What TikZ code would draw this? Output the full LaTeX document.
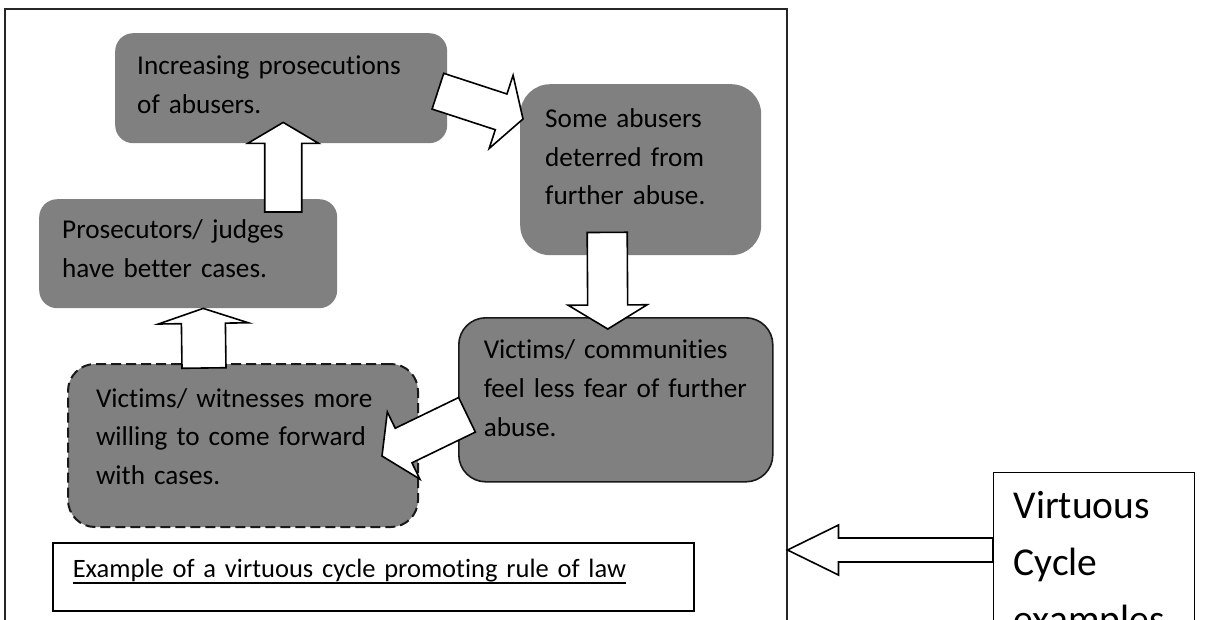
\documentclass[tikz,border=0pt]{standalone}
\usepackage{fontspec}
\setmainfont{Carlito}[Ligatures=NoCommon]
\usetikzlibrary{calc}
\hyphenpenalty=10000
\tikzset{
  cycle box/.style={anchor=north west, fill=gray, align=left, inner ysep=0pt, text height=41pt, font=\fontsize{27.2}{38.8}\selectfont},
  gray box/.style={cycle box, draw=none},
  solid box/.style={cycle box, draw=black!90, line width=1.6pt},
  dashed box/.style={cycle box, draw=black!90, line width=2pt, dash pattern=on 10pt off 5pt},
  frame box/.style={anchor=north west, draw=black!85, line width=1.5pt, inner sep=0pt},
  caption box/.style={anchor=north west, draw=black, line width=1.6pt, align=left, inner xsep=20pt, inner ysep=0pt, text height=35pt, text depth=33pt, font=\fontsize{26.5}{33}\selectfont},
  label box/.style={anchor=north west, draw=black, line width=1.4pt, align=left, inner xsep=20pt, inner ysep=0pt, text height=46pt, text depth=160pt, font=\fontsize{39.5}{57}\selectfont},
  block arrow/.style={draw=black, fill=white, line width=1.6pt, line join=miter},
}
% underlined caption text
\newsavebox{\capbox}
\newcommand{\capline}[1]{\sbox{\capbox}{#1}\usebox{\capbox}\hspace{-\wd\capbox}\rule[-5.8pt]{\wd\capbox}{1.6pt}}
% tail, tip, half shaft, half head, head length
\newcommand{\blockarrow}[5]{%
  \path ($(#2)!#5!(#1)$) coordinate (hb);
  \draw[block arrow] ($(#1)!#3!90:(#2)$) -- ($(hb)!#3!90:(#2)$) -- ($(hb)!#4!90:(#2)$) -- (#2)
    -- ($(hb)!#4!-90:(#2)$) -- ($(hb)!#3!-90:(#2)$) -- ($(#1)!#3!-90:(#2)$) -- cycle;
}

\begin{document}
\begin{tikzpicture}[x=1pt,y=-1pt]
\useasboundingbox (0,0) rectangle (1205,619);
\clip (0,0) rectangle (1205,619);
%the frame
\node[frame box, minimum width=782pt, minimum height=660pt] (frame) at (4,8) {};
%the nodes
\node[gray box, rounded corners=18pt, inner xsep=22pt, text width=288pt, text depth=69pt] (mA) at (115,33) {Increasing prosecutions\\of abusers.};
\node[gray box, rounded corners=30pt, inner xsep=25pt, text width=191pt, text height=43pt, text depth=128pt] (mB) at (520,84) {Some abusers\\deterred from\\further abuse.};
\node[gray box, rounded corners=18pt, inner xsep=23pt, text width=252pt, text height=39pt, text depth=70pt] (mC) at (39,199) {Prosecutors/ judges\\have better cases.};
\node[solid box, rounded corners=27pt, inner xsep=25pt, text width=264pt, text depth=123pt] (mD) at (458,317) {Victims/ communities\\feel less fear of further\\abuse.};
\node[dashed box, rounded corners=27pt, inner xsep=28pt, text width=294pt, text height=43pt, text depth=120pt] (mE) at (67,363) {Victims/ witnesses more\\willing to come forward\\with cases.};
\node[caption box, text width=601pt] (mCap) at (52,542) {\capline{Example of a virtuous cycle promoting rule of law}};
\node[label box, text width=161pt] (mVC) at (993,472) {Virtuous\\Cycle\\examples};
%ends of the arrows
\coordinate (ca0) at ($(mA.south |- mC.north)+(2,13)$);
\coordinate (ca1) at ($(mA.south)+(2,-21)$);
\coordinate (ab0) at ($(mA.east)+(-9.5,3)$);
\coordinate (ab1) at ($(mB.north west)+(3,35)$);
\coordinate (bd0) at ($(mB.south)+(-33.5,-23)$);
\coordinate (bd1) at ($(mD.north)+(-8,12)$);
\coordinate (de0) at ($(mD.west)+(9,15)$);
\coordinate (de1) at ($(mE.east)+(-37,10.5)$);
\coordinate (ec0) at ($(mE.north)+(-39,5)$);
\coordinate (ec1) at ($(mC.south)+(15,0)$);
\coordinate (vc0) at (mVC.west |- 0,550);
\coordinate (vc1) at (frame.east |- 0,550);
%drawings of vectors
\blockarrow{ca0}{ca1}{18.5pt}{35.5pt}{21pt}
\blockarrow{ab0}{ab1}{18.8pt}{38.5pt}{23pt}
\blockarrow{bd0}{bd1}{20pt}{39.5pt}{24pt}
\blockarrow{de0}{de1}{19.2pt}{37.3pt}{24pt}
\blockarrow{ec0}{ec1}{22pt}{45pt}{15pt}
\blockarrow{vc0}{vc1}{12pt}{25pt}{51pt}
\end{tikzpicture}
\end{document}
